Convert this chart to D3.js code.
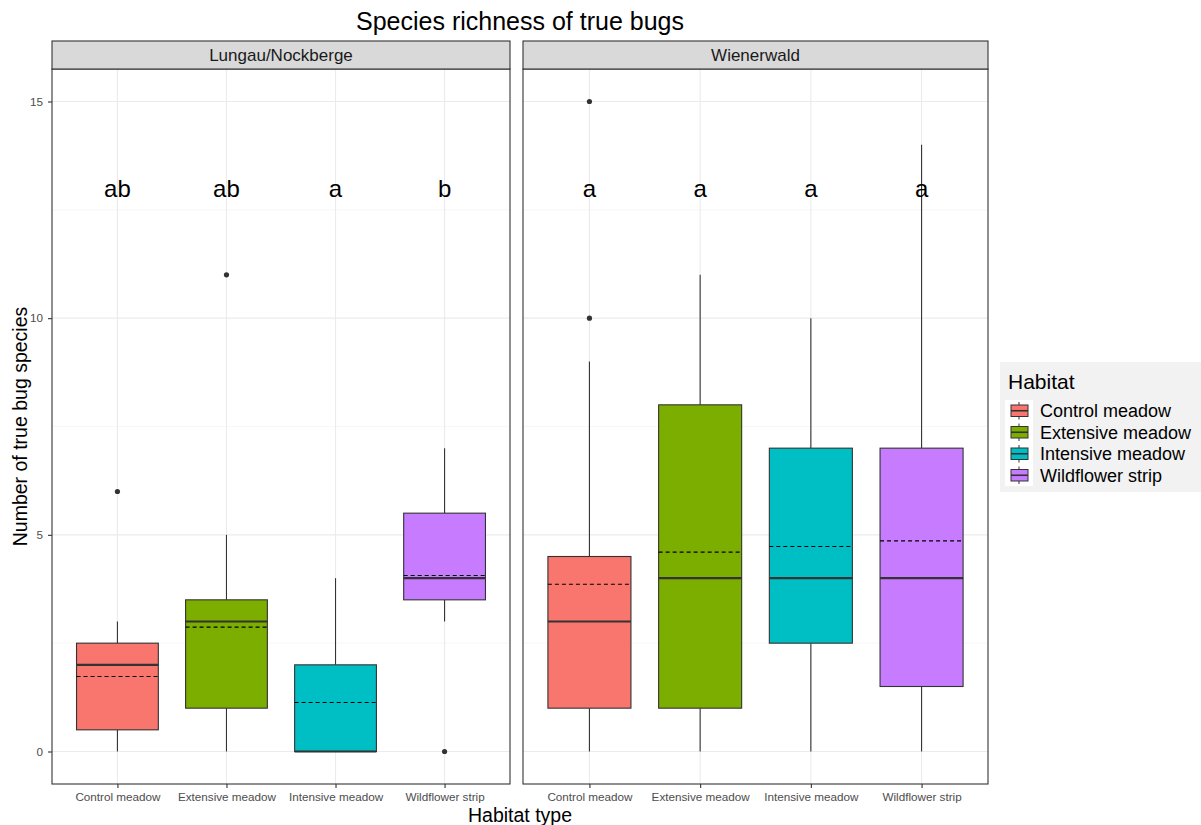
<!DOCTYPE html>
<html>
<head>
<meta charset="utf-8">
<script src="https://cdn.jsdelivr.net/npm/d3@7"></script>
<style>
  html, body { margin: 0; padding: 0; background: #ffffff; }
  svg { display: block; font-family: "Liberation Sans", Arial, sans-serif; }
</style>
</head>
<body>
<svg id="chart" width="1201" height="825"></svg>
<script>
// ---- data ----
const regions = ["Lungau/Nockberge", "Wienerwald"];
const habitats = ["Control meadow", "Extensive meadow", "Intensive meadow", "Wildflower strip"];
const habitatColors = ["#F8766D", "#7CAE00", "#00BFC4", "#C77CFF"];
const lowerWhisker = [[0, 0, 0, 3], [0, 0, 0, 0]];
const q1 = [[0.5, 1, 0, 3.5], [1, 1, 2.5, 1.5]];
const median = [[2, 3, 0, 4], [3, 4, 4, 4]];
const q3 = [[2.5, 3.5, 2, 5.5], [4.5, 8, 7, 7]];
const upperWhisker = [[3, 5, 4, 7], [9, 11, 10, 14]];
const means = [[1.73, 2.87, 1.13, 4.06], [3.86, 4.60, 4.73, 4.86]];
const outliers = [[[6], [11], [], [0]], [[10, 15], [], [], []]];
const letters = [["ab", "ab", "a", "b"], ["a", "a", "a", "a"]];
const letterY = 13;
const yTicks = [0, 5, 10, 15];
const yMinor = [2.5, 7.5, 12.5];

// ---- layout ----
const svg = d3.select("#chart");
const panels = [{x0: 52, x1: 510}, {x0: 523, x1: 988}];
const pTop = 69, pBottom = 784, stripTop = 41;
const y = d3.scaleLinear().domain([-0.75, 15.75]).range([pBottom, pTop]);
const dark = "#333333";
const FF = "'Liberation Sans', Arial, sans-serif";

// title
svg.append("text").attr("x", 520).attr("y", 30).attr("text-anchor", "middle")
  .attr("font-size", 25).attr("fill", "#000").text("Species richness of true bugs");

regions.forEach((reg, r) => {
  const P = panels[r];
  const x = d3.scalePoint().domain(habitats).range([P.x0, P.x1]).padding(0.6);
  const step = x.step();
  const bw = step * 0.75;
  const g = svg.append("g");

  g.append("rect").attr("x", P.x0).attr("y", pTop).attr("width", P.x1 - P.x0).attr("height", pBottom - pTop)
    .attr("fill", "#fff");
  g.selectAll(".ymin").data(yMinor).enter().append("line")
    .attr("x1", P.x0).attr("x2", P.x1).attr("y1", d => y(d)).attr("y2", d => y(d))
    .attr("stroke", "#f2f2f2").attr("stroke-width", 0.6);
  g.selectAll(".ymaj").data(yTicks).enter().append("line")
    .attr("x1", P.x0).attr("x2", P.x1).attr("y1", d => y(d)).attr("y2", d => y(d))
    .attr("stroke", "#ebebeb").attr("stroke-width", 1.1);
  g.selectAll(".xmaj").data(habitats).enter().append("line")
    .attr("x1", d => x(d)).attr("x2", d => x(d)).attr("y1", pTop).attr("y2", pBottom)
    .attr("stroke", "#ebebeb").attr("stroke-width", 1.1);

  habitats.forEach((h, i) => {
    const cx = x(h);
    g.append("line").attr("x1", cx).attr("x2", cx)
      .attr("y1", y(q3[r][i])).attr("y2", y(upperWhisker[r][i]))
      .attr("stroke", dark).attr("stroke-width", 1.1);
    g.append("line").attr("x1", cx).attr("x2", cx)
      .attr("y1", y(q1[r][i])).attr("y2", y(lowerWhisker[r][i]))
      .attr("stroke", dark).attr("stroke-width", 1.1);
    g.append("rect").attr("x", cx - bw / 2).attr("width", bw)
      .attr("y", y(q3[r][i])).attr("height", Math.max(0, y(q1[r][i]) - y(q3[r][i])))
      .attr("fill", habitatColors[i]).attr("stroke", dark).attr("stroke-width", 1.1);
    g.append("line").attr("x1", cx - bw / 2).attr("x2", cx + bw / 2)
      .attr("y1", y(median[r][i])).attr("y2", y(median[r][i]))
      .attr("stroke", dark).attr("stroke-width", 2.2);
    g.append("line").attr("x1", cx - bw / 2).attr("x2", cx + bw / 2)
      .attr("y1", y(means[r][i])).attr("y2", y(means[r][i]))
      .attr("stroke", "#000").attr("stroke-width", 1.1).attr("stroke-dasharray", "4,3");
    g.selectAll(null).data(outliers[r][i]).enter().append("circle")
      .attr("cx", cx).attr("cy", d => y(d)).attr("r", 2.6).attr("fill", dark);
    g.append("text").attr("x", cx).attr("y", y(letterY)).attr("dy", "0.35em")
      .attr("text-anchor", "middle").attr("font-size", 24).attr("fill", "#000")
      .text(letters[r][i]);
  });

  g.append("rect").attr("x", P.x0).attr("y", pTop).attr("width", P.x1 - P.x0).attr("height", pBottom - pTop)
    .attr("fill", "none").attr("stroke", dark).attr("stroke-width", 1.1);
  g.append("rect").attr("x", P.x0).attr("y", stripTop).attr("width", P.x1 - P.x0).attr("height", pTop - stripTop)
    .attr("fill", "#d9d9d9").attr("stroke", dark).attr("stroke-width", 1.1);
  g.append("text").attr("x", (P.x0 + P.x1) / 2).attr("y", (stripTop + pTop) / 2).attr("dy", "0.36em")
    .attr("text-anchor", "middle").attr("font-size", 17).attr("fill", "#1a1a1a").text(reg);

  const xAxis = d3.axisBottom(x).tickSize(4).tickPadding(5);
  const xa = g.append("g").attr("transform", `translate(0,${pBottom})`).call(xAxis)
    .attr("font-size", 11.7).attr("font-family", FF);
  xa.select(".domain").remove();
  xa.selectAll(".tick line").attr("stroke", dark).attr("stroke-width", 1.1);
  xa.selectAll(".tick text").attr("fill", "#4d4d4d");

  if (r === 0) {
    const yAxis = d3.axisLeft(y).tickValues(yTicks).tickSize(4).tickPadding(5);
    const ya = g.append("g").attr("transform", `translate(${P.x0},0)`).call(yAxis)
      .attr("font-size", 11.7).attr("font-family", FF);
    ya.select(".domain").remove();
    ya.selectAll(".tick line").attr("stroke", dark).attr("stroke-width", 1.1);
    ya.selectAll(".tick text").attr("fill", "#4d4d4d");
  }
});

// axis titles
svg.append("text").attr("x", 520).attr("y", 822).attr("text-anchor", "middle")
  .attr("font-size", 19.5).attr("fill", "#000").text("Habitat type");
svg.append("text").attr("transform", `translate(27,${(pTop + pBottom) / 2}) rotate(-90)`)
  .attr("text-anchor", "middle").attr("font-size", 19.5).attr("fill", "#000").text("Number of true bug species");

// legend
const lg = svg.append("g").attr("transform", "translate(1000,362)");
lg.append("rect").attr("x", 0).attr("y", 0).attr("width", 210).attr("height", 130).attr("fill", "#f2f2f2");
lg.append("text").attr("x", 8).attr("y", 27).attr("font-size", 21).attr("fill", "#000").text("Habitat");
const keyH = 21.5, keyTop = 38;
lg.append("rect").attr("x", 5).attr("y", keyTop).attr("width", 28).attr("height", keyH * habitats.length).attr("fill", "#fff");
habitats.forEach((h, i) => {
  const ky = keyTop + i * keyH;
  const kcx = 19;
  lg.append("line").attr("x1", kcx).attr("x2", kcx).attr("y1", ky + 2).attr("y2", ky + keyH - 2)
    .attr("stroke", dark).attr("stroke-width", 1);
  lg.append("rect").attr("x", 11).attr("y", ky + 5).attr("width", 17).attr("height", keyH - 10)
    .attr("fill", habitatColors[i]).attr("stroke", dark).attr("stroke-width", 1);
  lg.append("line").attr("x1", 11).attr("x2", 28).attr("y1", ky + keyH / 2).attr("y2", ky + keyH / 2)
    .attr("stroke", dark).attr("stroke-width", 1.6);
  lg.append("text").attr("x", 40).attr("y", ky + keyH / 2).attr("dy", "0.35em")
    .attr("font-size", 18).attr("fill", "#000").text(h);
});
</script>
</body>
</html>
